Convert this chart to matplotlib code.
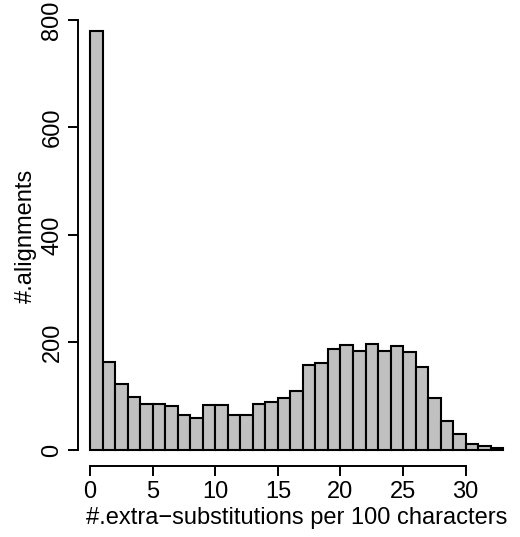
import matplotlib
matplotlib.use("Agg")
import matplotlib.pyplot as plt
import numpy as np

bin_left = list(range(33))
counts = [780, 163, 122, 99, 86, 86, 81, 66, 60, 84, 84, 65, 65, 85, 90, 97, 110,
          158, 161, 188, 195, 184, 198, 185, 193, 182, 155, 97, 54, 30, 11, 7, 3]
xticks = [0, 5, 10, 15, 20, 25, 30]
yticks = [0, 200, 400, 600, 800]

plt.rcParams['font.family'] = ['Liberation Sans', 'DejaVu Sans']
fig = plt.figure(figsize=(5.2, 5.37), dpi=100)
ax = fig.add_axes([0.166, 0.147, 0.809, 0.826])
ax.bar(bin_left, counts, width=1, align='edge', color='#c0c0c0', edgecolor='black', linewidth=1.5)
ax.set_xlim(-0.3, 33.3)
ax.set_ylim(-15, 810)
for s in ['top', 'right']:
    ax.spines[s].set_visible(False)
ax.spines['left'].set_bounds(0, 800)
ax.spines['bottom'].set_bounds(0, 30)
ax.spines['left'].set_position(('outward', 6))
ax.spines['bottom'].set_position(('outward', 6))
for s in ['left', 'bottom']:
    ax.spines[s].set_linewidth(1.4)
ax.set_xticks(xticks)
ax.set_yticks(yticks)
ax.set_yticklabels([str(v) for v in yticks], rotation=90, va='center')
ax.tick_params(labelsize=17, width=1.4, length=7)
ax.set_xlabel('#.extra\u2212substitutions per 100 characters', fontsize=17, labelpad=3)
ax.set_ylabel('#.alignments', fontsize=17, labelpad=3)
fig.savefig('out.png')
